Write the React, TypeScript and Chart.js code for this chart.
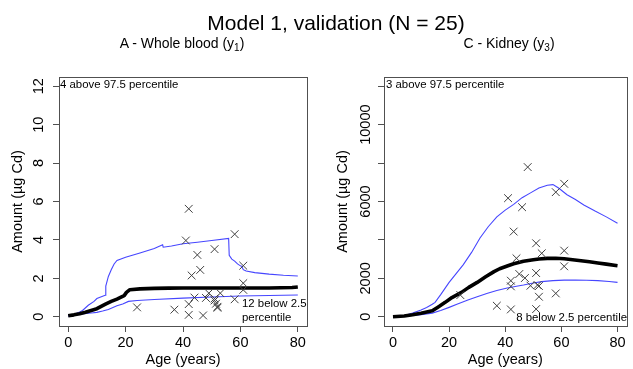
import { useEffect, useRef } from "react";
import { Chart, registerables } from "chart.js";

Chart.register(...registerables);

const FONT = "'Liberation Sans', Arial, Helvetica, sans-serif";
const AXIS = "#505050";
const BLUE = "#4646ff";
const CROSS = "#404040";

// Ages (years) of the 25 validation subjects
const subjectAge = [24, 37, 41, 42, 42, 42, 43, 44, 45, 46, 47, 48, 49, 51, 51, 51, 51.5, 52, 52, 53, 58, 58, 61, 61, 61];

// Measured amounts per subject
const bloodObserved = [0.49, 0.37, 3.97, 5.62, 0.66, 0.1, 2.15, 1.0, 3.22, 2.44, 0.07, 0.98, 1.23, 3.52, 0.95, 0.85, 0.68, 0.52, 0.47, 1.23, 4.3, 0.91, 2.66, 1.75, 1.4];
const kidneyObserved = [1130, 574, 6174, 1878, 1583, 383, 4435, 3043, 2226, 5704, 2017, 7791, 1617, 3826, 2278, 400, 1652, 1600, 1043, 3304, 1217, 6487, 6922, 3443, 2626];

// Whole blood: model percentiles [age, amount]
const bloodP975: [number, number][] = [
  [0, 0.05], [2, 0.12], [4, 0.25], [5, 0.33], [7, 0.6], [9, 0.8], [10, 0.95], [12, 1.07], [12.9, 1.12],
  [13.1, 1.6], [14, 2.1], [15, 2.45], [16, 2.75], [17, 2.93], [20, 3.1], [25, 3.32], [30, 3.55], [32.9, 3.75],
  [33.1, 3.62], [36, 3.68], [40, 3.8], [45, 3.88], [50, 3.97], [55.9, 4.08], [56.1, 3.2], [57, 3.0], [58, 2.9],
  [59, 2.75], [60, 2.65], [60.5, 2.62], [61, 2.45], [62, 2.38], [65, 2.3], [70, 2.22], [75, 2.16], [80, 2.12],
];
const bloodP50: [number, number][] = [
  [0, 0.05], [2, 0.1], [4, 0.16], [6, 0.24], [8, 0.33], [10, 0.42], [13, 0.66], [15, 0.8], [17, 0.92],
  [19.5, 1.1], [20.3, 1.27], [21.5, 1.41], [25, 1.45], [30, 1.48], [35, 1.49], [40, 1.5], [50, 1.5],
  [60, 1.5], [70, 1.5], [78, 1.52], [80, 1.55],
];
const bloodP025: [number, number][] = [
  [0, 0.03], [4, 0.13], [8, 0.2], [10, 0.23], [12, 0.3], [14, 0.38], [17, 0.57], [19, 0.66], [21, 0.8],
  [24, 0.85], [30, 0.9], [40, 0.97], [50, 1.03], [60, 1.08], [70, 1.11], [80, 1.13],
];

// Kidney: model percentiles [age, amount]
const kidneyP975: [number, number][] = [
  [0, 0], [4, 50], [7, 190], [10, 350], [12, 480], [14, 650], [15, 750], [17, 1150], [20, 1790],
  [25, 2700], [28, 3350], [31, 4100], [34, 4700], [37, 5200], [40, 5550], [43, 5850], [46, 6200],
  [49, 6450], [52, 6700], [55, 6850], [57, 6880], [59, 6700], [62, 6350], [65, 6100], [68, 5820],
  [72, 5500], [76, 5200], [80, 4870],
];
const kidneyP50: [number, number][] = [
  [0, 0], [4, 40], [7, 104], [10, 180], [14, 313], [16, 500], [18.6, 750], [21, 1000], [24.4, 1270],
  [27, 1530], [30, 1790], [33, 2080], [36, 2350], [38, 2500], [40.7, 2640], [43, 2760], [46.5, 2890],
  [50, 2970], [52, 3010], [55, 3040], [58, 3050], [61, 3020], [64, 2970], [67, 2920], [70, 2860],
  [73, 2800], [76, 2740], [80, 2660],
];
const kidneyP025: [number, number][] = [
  [0, 0], [4, 30], [7, 70], [10, 110], [14, 190], [17, 330], [20, 490], [23, 660], [26.7, 870],
  [30, 1040], [33.7, 1220], [37, 1370], [40.7, 1500], [44, 1590], [46.5, 1650], [50, 1760], [53, 1830],
  [57, 1880], [61, 1910], [65, 1915], [69, 1905], [73, 1880], [77, 1840], [80, 1790],
];

// Axis ticks
const ageTicks = [0, 20, 40, 60, 80];
const bloodTicks = [0, 2, 4, 6, 8, 10, 12];
const bloodTickLabels = ["0", "2", "4", "6", "8", "10", "12"];
const kidneyTicks = [0, 2000, 4000, 6000, 8000, 10000, 12000];
const kidneyTickLabels = ["0", "2000", "", "6000", "", "10000", ""];

type Note = { text: string; x: number; y: number; align: CanvasTextAlign };

type Panel = {
  width: number;
  yAxisWidth: number;
  rightPad: number;
  yMin: number;
  yMax: number;
  yTicks: number[];
  yTickLabels: string[];
  yTickX: number;
  yTitlePad: number;
  upper: [number, number][];
  median: [number, number][];
  lower: [number, number][];
  observed: number[];
  notes: Note[];
};

const bloodPanel: Panel = {
  width: 316,
  yAxisWidth: 59,
  rightPad: 9,
  yMin: -0.48,
  yMax: 12.48,
  yTicks: bloodTicks,
  yTickLabels: bloodTickLabels,
  yTickX: 39,
  yTitlePad: 9,
  upper: bloodP975,
  median: bloodP50,
  lower: bloodP025,
  observed: bloodObserved,
  notes: [
    { text: "4 above 97.5 percentile", x: 60, y: 87.5, align: "left" },
    { text: "12 below 2.5", x: 242, y: 307, align: "left" },
    { text: "percentile", x: 242, y: 320.5, align: "left" },
  ],
};

const kidneyPanel: Panel = {
  width: 317,
  yAxisWidth: 68,
  rightPad: 1,
  yMin: -480,
  yMax: 12480,
  yTicks: kidneyTicks,
  yTickLabels: kidneyTickLabels,
  yTickX: 50,
  yTitlePad: 18,
  upper: kidneyP975,
  median: kidneyP50,
  lower: kidneyP025,
  observed: kidneyObserved,
  notes: [
    { text: "3 above 97.5 percentile", x: 70, y: 87.5, align: "left" },
    { text: "8 below 2.5 percentile", x: 311, y: 320.5, align: "right" },
  ],
};

const toXY = (pts: [number, number][]) => pts.map(([x, y]) => ({ x, y }));

function buildChart(canvas: HTMLCanvasElement, p: Panel) {
  // Draws the box around the plot region, the rotated y tick labels and the count notes
  const framePlugin = {
    id: "frameAndNotes",
    afterDraw(chart: Chart) {
      const { ctx, chartArea: a } = chart;
      ctx.save();
      ctx.strokeStyle = AXIS;
      ctx.lineWidth = 1;
      ctx.strokeRect(
        Math.round(a.left) + 0.5,
        Math.round(a.top) + 0.5,
        Math.round(a.right - a.left),
        Math.round(a.bottom - a.top)
      );
      const ys = chart.scales.y;
      ctx.fillStyle = "#000";
      ctx.font = `14.5px ${FONT}`;
      ctx.textAlign = "center";
      ctx.textBaseline = "middle";
      p.yTicks.forEach((v, i) => {
        const label = p.yTickLabels[i];
        if (!label) return;
        const py = ys.getPixelForValue(v);
        ctx.save();
        ctx.translate(p.yTickX, py);
        ctx.rotate(-Math.PI / 2);
        ctx.fillText(label, 0, 0);
        ctx.restore();
      });
      ctx.font = `11.4px ${FONT}`;
      ctx.textBaseline = "alphabetic";
      p.notes.forEach((n) => {
        ctx.textAlign = n.align;
        ctx.fillText(n.text, n.x, n.y);
      });
      ctx.restore();
    },
  };

  const axisFont = { family: FONT, size: 14.5, lineHeight: 1.2 };

  return new Chart(canvas, {
    type: "scatter",
    data: {
      datasets: [
        {
          type: "scatter",
          data: subjectAge.map((x, i) => ({ x, y: p.observed[i] })),
          pointStyle: "crossRot",
          pointRadius: 5.5,
          borderColor: CROSS,
          backgroundColor: "transparent",
          borderWidth: 1,
        },
        {
          type: "line",
          data: toXY(p.median),
          borderColor: "#000",
          borderWidth: 3.6,
          pointRadius: 0,
          tension: 0,
          borderCapStyle: "butt",
          borderJoinStyle: "round",
        },
        {
          type: "line",
          data: toXY(p.upper),
          borderColor: BLUE,
          borderWidth: 1.1,
          pointRadius: 0,
          tension: 0,
        },
        {
          type: "line",
          data: toXY(p.lower),
          borderColor: BLUE,
          borderWidth: 1.1,
          pointRadius: 0,
          tension: 0,
        },
      ],
    },
    options: {
      animation: false,
      responsive: false,
      devicePixelRatio: 1,
      events: [],
      layout: { padding: { left: 0, right: p.rightPad, top: 77, bottom: 0 } },
      plugins: {
        legend: { display: false },
        tooltip: { enabled: false },
        title: { display: false },
      },
      scales: {
        x: {
          type: "linear",
          min: -3.2,
          max: 83.2,
          afterBuildTicks: (s: any) => {
            s.ticks = ageTicks.map((value) => ({ value }));
          },
          afterFit: (s: any) => {
            s.height = 43;
          },
          grid: { drawOnChartArea: false, drawTicks: true, tickLength: 6, color: AXIS, lineWidth: 1 },
          border: { display: true, color: AXIS, width: 1 },
          ticks: { font: axisFont, color: "#000", padding: 2, maxRotation: 0, autoSkip: false },
          title: { display: true, text: "Age (years)", font: axisFont, color: "#000", padding: 0 },
        },
        y: {
          type: "linear",
          min: p.yMin,
          max: p.yMax,
          afterBuildTicks: (s: any) => {
            s.ticks = p.yTicks.map((value) => ({ value }));
          },
          afterFit: (s: any) => {
            s.width = p.yAxisWidth;
          },
          grid: { drawOnChartArea: false, drawTicks: true, tickLength: 6, color: AXIS, lineWidth: 1 },
          border: { display: true, color: AXIS, width: 1 },
          ticks: { display: false, autoSkip: false },
          title: {
            display: true,
            text: "Amount (µg Cd)",
            font: axisFont,
            color: "#000",
            padding: { top: p.yTitlePad, bottom: 0 },
          },
        },
      },
    },
    plugins: [framePlugin],
  } as any);
}

function PanelChart({ panel, left }: { panel: Panel; left: number }) {
  const ref = useRef<HTMLCanvasElement | null>(null);
  useEffect(() => {
    if (!ref.current) return;
    const chart = buildChart(ref.current, panel);
    return () => chart.destroy();
  }, [panel]);
  return (
    <canvas
      ref={ref}
      width={panel.width}
      height={369}
      style={{ position: "absolute", left, top: 0, width: panel.width, height: 369 }}
    />
  );
}

const subStyle = { fontSize: 10, position: "relative" as const, top: 3 };

export default function App() {
  return (
    <div
      style={{
        position: "fixed",
        left: 0,
        top: 0,
        width: 633,
        height: 369,
        background: "#fff",
        fontFamily: FONT,
        color: "#000",
        overflow: "hidden",
      }}
    >
      <PanelChart panel={bloodPanel} left={0} />
      <PanelChart panel={kidneyPanel} left={316} />
      <div
        style={{
          position: "absolute",
          left: 336,
          top: 12,
          transform: "translateX(-50%)",
          fontSize: 21,
          lineHeight: "21px",
          whiteSpace: "nowrap",
        }}
      >
        Model 1, validation (N = 25)
      </div>
      <div
        style={{
          position: "absolute",
          left: 182,
          top: 35.6,
          transform: "translateX(-50%)",
          fontSize: 14,
          lineHeight: "14px",
          whiteSpace: "nowrap",
        }}
      >
        A - Whole blood (y<span style={subStyle}>1</span>)
      </div>
      <div
        style={{
          position: "absolute",
          left: 509,
          top: 35.6,
          transform: "translateX(-50%)",
          fontSize: 14,
          lineHeight: "14px",
          whiteSpace: "nowrap",
        }}
      >
        C - Kidney (y<span style={subStyle}>3</span>)
      </div>
    </div>
  );
}
